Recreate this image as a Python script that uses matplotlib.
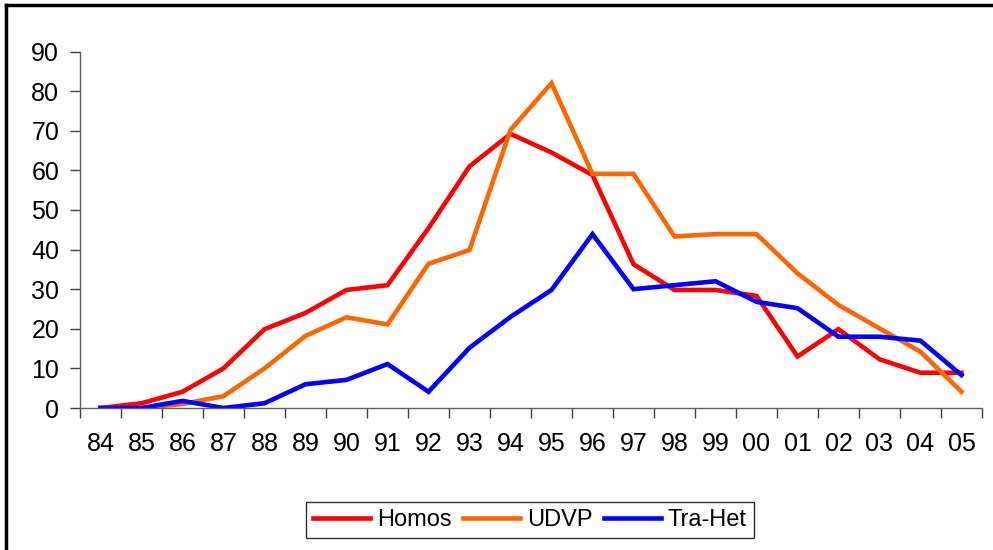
import matplotlib
matplotlib.use("Agg")
import matplotlib.pyplot as plt
from matplotlib.lines import Line2D
import numpy as np

years = ["84", "85", "86", "87", "88", "89", "90", "91", "92", "93", "94",
         "95", "96", "97", "98", "99", "00", "01", "02", "03", "04", "05"]
homos = [0, 1.2, 4.1, 10, 19.9, 24, 29.8, 31, 45.4, 61, 69.2,
         64.5, 58.8, 36.3, 29.8, 29.8, 28.3, 13, 19.9, 12.3, 8.9, 8.9]
udvp = [0, 0, 1, 3, 10, 18.2, 22.9, 21.1, 36.4, 39.9, 70.2,
        82, 59.1, 59.1, 43.3, 43.9, 43.9, 34, 26, 20.1, 14.2, 4.1]
traHet = [0, 0, 1.8, 0, 1.2, 6, 7.1, 11.1, 4.1, 15.2, 23,
          29.8, 43.9, 30, 31, 32, 26.8, 25.2, 18, 18, 17, 8.3]
yticks = [0, 10, 20, 30, 40, 50, 60, 70, 80, 90]

plt.rcParams['font.family'] = ['Liberation Sans', 'DejaVu Sans']

fig = plt.figure(figsize=(9.93, 5.5), dpi=100)
ax = fig.add_axes([80/993, 1-408/550, (982-80)/993, (408-51.5)/550])

x = np.arange(len(years))
ax.plot(x, homos, color='#FF0000', lw=3.3, label='Homos', solid_joinstyle='miter')
ax.plot(x, udvp, color='#FF6600', lw=3.3, label='UDVP', solid_joinstyle='miter')
ax.plot(x, traHet, color='#0000FF', lw=3.3, label='Tra-Het', solid_joinstyle='miter')

ax.set_xlim(-0.5, len(years) - 0.5)
ax.set_ylim(0, 90)
ax.set_yticks(yticks)
ax.set_yticklabels([str(v) for v in yticks], fontsize=18)
ax.set_xticks(np.arange(-0.5, len(years), 1.0))
ax.set_xticklabels([])
ax.set_xticks(x, minor=True)
ax.set_xticklabels(years, minor=True, fontsize=18)
ax.tick_params(axis='x', which='major', length=7, width=1, color='#404040', direction='out')
ax.tick_params(axis='x', which='minor', length=0, pad=17)
ax.tick_params(axis='y', length=7, width=1, color='#404040', direction='out', pad=8)

for s in ['top', 'right']:
    ax.spines[s].set_visible(False)
for s in ['left', 'bottom']:
    ax.spines[s].set_color('#606060')
    ax.spines[s].set_linewidth(1)

leg = fig.legend(loc='center', bbox_to_anchor=(530/993, 1-520/550), ncol=3,
                 fontsize=17, frameon=True, fancybox=False, edgecolor='black',
                 handlelength=2.4, handletextpad=0.3, columnspacing=0.5,
                 borderpad=0.3)
leg.get_frame().set_linewidth(1)

# outer frame (left and top edges visible)
fig.add_artist(Line2D([6/993, 6/993], [0, 1-5/550], transform=fig.transFigure,
                      color='black', lw=2.5))
fig.add_artist(Line2D([6/993, 1], [1-5/550, 1-5/550], transform=fig.transFigure,
                      color='black', lw=2.5))

fig.savefig('out.png', dpi=100)
